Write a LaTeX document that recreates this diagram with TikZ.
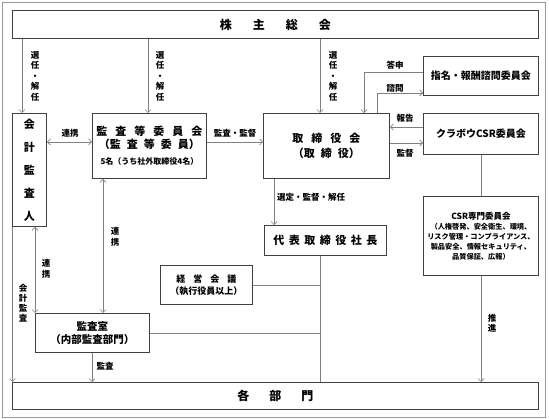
\documentclass[tikz,border=0pt]{standalone}
\usepackage{fontspec}
\setmainfont{Noto Sans CJK JP}
\usetikzlibrary{arrows.meta}
\begin{document}
\begin{tikzpicture}[x=1pt,y=-1pt,
  box/.style={draw=black!75, line width=0.9pt, fill=white, inner sep=0pt, anchor=north west, align=center},
  ln/.style={draw=black!50, line width=0.7pt},
  arr/.style={ln, -{Straight Barb[length=3pt,width=6pt]}},
  barr/.style={ln, {Straight Barb[length=3pt,width=6pt]}-{Straight Barb[length=3pt,width=6pt]}},
  lbl/.style={font=\fontsize{8.5}{10.5}\selectfont\bfseries, inner sep=0pt, align=center},
  vlbl/.style={font=\fontsize{8.5}{10.5}\selectfont\bfseries, inner sep=0pt, align=center},
]
\useasboundingbox (0,0) rectangle (549,419);
\draw[draw=black!40, line width=0.8pt] (2,2) rectangle (545,417);

% boxes
\node[box, minimum width=526pt, minimum height=28pt, font=\fontsize{12}{14}\selectfont\bfseries] (sh) at (12,10) {株\hspace{21pt}主\hspace{21pt}総\hspace{21pt}会};
\node[box, minimum width=34pt, minimum height=113pt, font=\fontsize{11}{23}\selectfont\bfseries] (ka) at (12,113) {会\\計\\監\\査\\人};
\node[box, minimum width=114pt, minimum height=65pt, font=\fontsize{11}{12.5}\selectfont\bfseries] (kt) at (92,113)
  {監\hspace{8pt}査\hspace{8pt}等\hspace{8pt}委\hspace{8pt}員\hspace{8pt}会\\（監\hspace{6pt}査\hspace{6pt}等\hspace{6pt}委\hspace{6pt}員）\\[4pt]{\fontsize{8}{10}\selectfont 5名（うち社外取締役4名）}};
\node[box, minimum width=126pt, minimum height=65pt, font=\fontsize{11}{15}\selectfont\bfseries] (tr) at (263,113)
  {取\hspace{8pt}締\hspace{8pt}役\hspace{8pt}会\\（取\hspace{6pt}締\hspace{6pt}役）};
\node[box, minimum width=115pt, minimum height=39pt, font=\fontsize{10}{12}\selectfont\bfseries] (sm) at (423,56) {指名・報酬諮問委員会};
\node[box, minimum width=115pt, minimum height=41pt, font=\fontsize{10}{12}\selectfont\bfseries] (csr) at (423,113) {クラボウCSR委員会};
\node[box, minimum width=115pt, minimum height=79pt, font=\fontsize{7.2}{10}\selectfont\bfseries] (csrs) at (423,196)
  {{\fontsize{8.5}{10}\selectfont CSR専門委員会}\\（人権啓発、安全衛生、環境、\\リスク管理・コンプライアンス、\\製品安全、情報セキュリティ、\\品質保証、広報）};
\node[box, minimum width=122pt, minimum height=30pt, font=\fontsize{11}{13}\selectfont\bfseries] (dh) at (264,225)
  {代\hspace{4.5pt}表\hspace{4.5pt}取\hspace{4.5pt}締\hspace{4.5pt}役\hspace{4.5pt}社\hspace{4.5pt}長};
\node[box, minimum width=92pt, minimum height=39pt, font=\fontsize{9}{11.5}\selectfont\bfseries] (kk) at (160,265)
  {経\hspace{8pt}営\hspace{8pt}会\hspace{8pt}議\\（執行役員以上）};
\node[box, minimum width=114pt, minimum height=39pt, font=\fontsize{10.5}{13}\selectfont\bfseries] (ks) at (35,313)
  {監査室\\（内部監査部門）};
\node[box, minimum width=526pt, minimum height=27pt, font=\fontsize{12}{14}\selectfont\bfseries] (bm) at (12,382)
  {各\hspace{20pt}部\hspace{20pt}門};

% helper coordinates
\coordinate (x12) at (12.5,0);
\coordinate (x22) at (22,0);
\coordinate (x35) at (35,0);
\coordinate (x92) at (92,0);
\coordinate (x103) at (103,0);
\coordinate (x148) at (148,0);
\coordinate (x274) at (274,0);
\coordinate (x320) at (320,0);
\coordinate (x364) at (364,0);
\coordinate (x377) at (377,0);
\coordinate (x481) at (481,0);
\coordinate (y72) at (0,72);
\coordinate (y93) at (0,93);
\coordinate (y127) at (0,127);
\coordinate (y142) at (0,142);
\coordinate (y143) at (0,143);
\coordinate (jk) at (320,285);
\coordinate (js) at (320,333);

% connectors
\draw[arr] (sh.south -| x22) -- (ka.north -| x22);
\draw[arr] (sh.south -| x148) -- (kt.north -| x148);
\draw[arr] (sh.south -| x320) -- (tr.north -| x320);
\draw[barr] (ka.east |- y142) -- (kt.west |- y142);
\draw[arr] (kt.east |- y142) -- (tr.west |- y142);
\draw[arr] (sm.west |- y72) -| (tr.north -| x364);
\draw[arr] (tr.north -| x377) |- (sm.west |- y93);
\draw[arr] (csr.west |- y127) -- (tr.east |- y127);
\draw[arr] (tr.east |- y143) -- (csr.west |- y143);
\draw[ln] (csr.south -| x481) -- (csrs.north -| x481);
\draw[arr] (tr.south -| x274) -- (dh.north -| x274);
\draw[ln] (dh.south -| x320) -- (bm.north -| x320);
\draw[ln] (kk.east |- jk) -- (jk);
\draw[ln] (ks.east |- js) -- (js);
\draw[barr] (kt.south -| x103) -- (ks.north -| x103);
\draw[barr] (ka.south -| x35) -- (ks.north -| x35);
\draw[arr] (ka.south -| x12) -- (bm.north -| x12);
\draw[arr] (ks.south -| x92) -- (bm.north -| x92);
\draw[arr] (csrs.south -| x481) -- (bm.north -| x481);

% labels
\node[vlbl] (l1) at (35,76) {選\\任\\・\\解\\任};
\node[vlbl] (l2) at (160,76) {選\\任\\・\\解\\任};
\node[vlbl] (l3) at (333,76) {選\\任\\・\\解\\任};
\node[lbl] (l4) at (70,133) {連携};
\node[lbl] (l5) at (235,133) {監査・監督};
\node[lbl] (l6) at (395,65) {答申};
\node[lbl] (l7) at (395,88) {諮問};
\node[lbl] (l8) at (405,118) {報告};
\node[lbl] (l9) at (405,153) {監督};
\node[lbl] (l10) at (311,197) {選定・監督・解任};
\node[vlbl] (l11) at (115,237) {連\\携};
\node[vlbl] (l12) at (46,269) {連\\携};
\node[vlbl, font=\fontsize{8.5}{10}\selectfont\bfseries] (l13) at (23,303) {会\\計\\監\\査};
\node[lbl] (l14) at (105,366) {監査};
\node[vlbl] (l15) at (492,323) {推\\進};
\end{tikzpicture}
\end{document}
